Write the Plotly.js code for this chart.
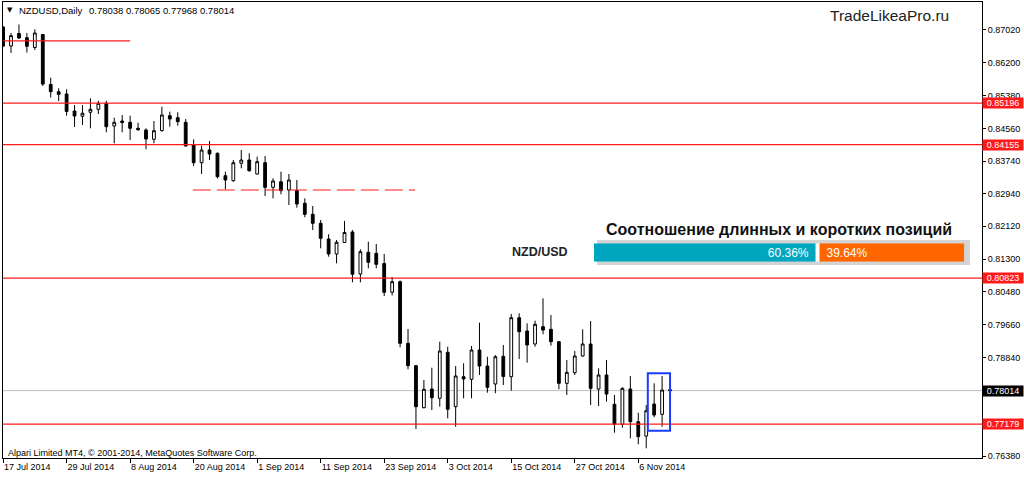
<!DOCTYPE html>
<html><head><meta charset="utf-8">
<script src="https://cdn.plot.ly/plotly-3.0.1.min.js"></script>
<style>html,body{margin:0;padding:0;background:#fff;}#chart{width:1024px;height:477px;}</style>
</head><body><div id="chart"></div>
<script>
// ---- data (NZDUSD daily, 17 Jul 2014 .. 12 Nov 2014) ----
const open = [0.87095,0.86620,0.86933,0.86828,0.86583,0.86908,0.85659,0.85479,0.85422,0.84997,
0.84865,0.84965,0.85040,0.85189,0.84622,0.84747,0.84715,0.84565,0.84523,0.84290,
0.84505,0.84880,0.84830,0.84715,0.84148,0.83706,0.84023,0.83941,0.83381,0.83256,
0.83691,0.83773,0.83424,0.83706,0.83091,0.83231,0.83024,0.83007,0.82692,0.82417,
0.82192,0.81800,0.81426,0.81713,0.81975,0.80926,0.81468,0.81443,0.81188,0.80469,
0.80734,0.79195,0.78636,0.77587,0.78054,0.77822,0.78971,0.77612,0.78361,0.78296,
0.79028,0.78628,0.78179,0.78871,0.78361,0.79835,0.79503,0.79178,0.79610,0.79545,
0.79235,0.78196,0.78461,0.78878,0.79178,0.78054,0.78404,0.77672,0.77172,0.78054,
0.77237,0.76880,0.77679,0.77422,0.78038];
const high = [0.87120,0.86945,0.87157,0.86945,0.87037,0.86920,0.85829,0.85564,0.85539,0.85147,
0.85147,0.85314,0.85254,0.85254,0.84830,0.84897,0.84880,0.84705,0.84565,0.84747,
0.85104,0.84980,0.84965,0.84797,0.84290,0.84130,0.84248,0.83961,0.83481,0.83773,
0.84023,0.83941,0.83856,0.83873,0.83316,0.83481,0.83424,0.83274,0.82817,0.82624,
0.82275,0.81918,0.81775,0.82250,0.82025,0.81543,0.81733,0.81675,0.81426,0.80851,
0.80764,0.79552,0.78653,0.78279,0.78586,0.79235,0.79110,0.78628,0.78696,0.79128,
0.79710,0.78861,0.78903,0.79153,0.79927,0.79945,0.79695,0.79760,0.80319,0.79902,
0.79253,0.78778,0.79003,0.79545,0.79752,0.78571,0.78778,0.77904,0.78096,0.78379,
0.77462,0.77654,0.78196,0.78379,0.78065];
const low = [0.86595,0.86446,0.86795,0.86458,0.86520,0.85621,0.85334,0.85247,0.84880,0.84597,
0.84647,0.84565,0.84922,0.84465,0.84190,0.84465,0.84273,0.84498,0.84040,0.84190,
0.84485,0.84605,0.84630,0.84110,0.83623,0.83424,0.83773,0.83316,0.83042,0.83231,
0.83566,0.83481,0.83411,0.82874,0.82817,0.82917,0.82649,0.82582,0.82342,0.82025,
0.81568,0.81358,0.81193,0.81700,0.80719,0.80719,0.81068,0.81068,0.80377,0.80389,
0.79095,0.78546,0.77055,0.77572,0.77529,0.77612,0.77322,0.77112,0.77822,0.77822,
0.78404,0.77962,0.77947,0.78154,0.78012,0.78803,0.78711,0.79110,0.79420,0.79135,
0.78047,0.77904,0.78404,0.78861,0.77654,0.77629,0.77737,0.76963,0.77087,0.76823,
0.76673,0.76573,0.77347,0.77112,0.77968];
const close = [0.86620,0.86878,0.86820,0.86613,0.86945,0.85671,0.85479,0.85414,0.84985,0.84872,
0.84940,0.85040,0.85189,0.84605,0.84715,0.84710,0.84565,0.84530,0.84298,0.84505,
0.84897,0.84797,0.84730,0.84123,0.83706,0.84023,0.83923,0.83356,0.83274,0.83706,
0.83773,0.83506,0.83731,0.83091,0.83249,0.83007,0.83274,0.82674,0.82417,0.82192,
0.81818,0.81426,0.81718,0.81963,0.80921,0.81483,0.81218,0.81168,0.80469,0.80734,
0.79195,0.78636,0.77612,0.78047,0.77837,0.79003,0.77547,0.78379,0.78304,0.79028,
0.78628,0.78096,0.78861,0.78366,0.79835,0.79485,0.79153,0.79670,0.79527,0.79235,
0.78196,0.78471,0.78878,0.79178,0.78071,0.78404,0.77929,0.77172,0.78071,0.77237,
0.76863,0.77512,0.77405,0.78029,0.78014];

const tickBars  = [0, 8, 16, 24, 32, 40, 48, 56, 64, 72, 80];
const tickDates = ["17 Jul 2014","29 Jul 2014","8 Aug 2014","20 Aug 2014","1 Sep 2014",
                   "11 Sep 2014","23 Sep 2014","3 Oct 2014","15 Oct 2014","27 Oct 2014","6 Nov 2014"];
const priceTicks = [0.87020,0.86200,0.85380,0.84560,0.83740,0.82940,0.82120,
                    0.81300,0.80480,0.79660,0.78840,0.76380];

const levels = [0.85196, 0.84155, 0.80823, 0.77179];   // full-width red levels
const topLevel = 0.86750;  const topLevelBars = [0, 16];
const dashLevel = 0.83024; const dashLevelBars = [23.9, 51.9];
const zoneBars = [81.2, 84.0]; const zonePrices = [0.77012, 0.78446];

const sentimentPair = "NZD/USD";
const sentimentTitle = "Соотношение длинных и коротких позиций";
const sentiment = [60.36, 39.64];  // long, short

const symbolName = "NZDUSD,Daily";
const watermark = "TradeLikeaPro.ru";
const copyright = "Alpari Limited MT4, © 2001-2014, MetaQuotes Software Corp.";

// ---- layout helpers (pixel -> paper) ----
const PL = 3, PR = 982, PT = 2, PB = 458;
const px = v => (v - PL) / (PR - PL);
const py = v => (PB - v) / (PB - PT);
const FONT = "Liberation Sans, Arial, sans-serif";
const RED = "#ff1a1a";

const n = close.length;
const xs = close.map((_, i) => i);
const last = n - 1;
const bid = close[last];

const traces = [{
  type: "candlestick", x: xs, open: open, high: high, low: low, close: close,
  increasing: {line: {color: "#000", width: 1}, fillcolor: "#fff"},
  decreasing: {line: {color: "#000", width: 1}, fillcolor: "#000"},
  whiskerwidth: 0, hoverinfo: "none", showlegend: false
}, {
  type: "bar", orientation: "h", x: [sentiment[0]], y: [0], base: [0], width: [1],
  xaxis: "x2", yaxis: "y2", marker: {color: "#00a6bf", line: {width: 0}},
  text: [sentiment[0].toFixed(2) + "%\u2002"], textposition: "inside", insidetextanchor: "end",
  constraintext: "none", textfont: {color: "#fff", size: 12, family: FONT},
  hoverinfo: "none", showlegend: false
}, {
  type: "bar", orientation: "h", x: [sentiment[1]], y: [0], base: [sentiment[0]], width: [1],
  xaxis: "x2", yaxis: "y2", marker: {color: "#ff6600", line: {width: 0}},
  text: ["\u2002" + sentiment[1].toFixed(2) + "%"], textposition: "inside", insidetextanchor: "start",
  constraintext: "none", textfont: {color: "#fff", size: 12, family: FONT},
  hoverinfo: "none", showlegend: false
}];

const shapes = [];
levels.forEach(v => shapes.push({type: "line", xref: "paper", yref: "y", x0: 0, x1: 1, y0: v, y1: v,
  line: {color: RED, width: 1.2}}));
shapes.push({type: "line", xref: "x", yref: "y", x0: topLevelBars[0] - 1, x1: topLevelBars[1], y0: topLevel, y1: topLevel,
  line: {color: RED, width: 1.2}});
shapes.push({type: "line", xref: "x", yref: "y", x0: dashLevelBars[0], x1: dashLevelBars[1], y0: dashLevel, y1: dashLevel,
  line: {color: RED, width: 1.2, dash: "18px,6px"}});
shapes.push({type: "line", xref: "paper", yref: "y", x0: 0, x1: 1, y0: bid, y1: bid,
  line: {color: "#c0c0c0", width: 1}, layer: "below"});
shapes.push({type: "rect", xref: "x", yref: "y", x0: zoneBars[0], x1: zoneBars[1], y0: zonePrices[0], y1: zonePrices[1],
  line: {color: "#1a3cff", width: 2}, fillcolor: "rgba(0,0,0,0)"});
// sentiment widget shadow + separator
shapes.push({type: "rect", xref: "paper", yref: "paper", x0: px(597), x1: px(970), y0: py(265), y1: py(240),
  fillcolor: "#d4d4d4", line: {width: 0}, layer: "below"});
shapes.push({type: "line", xref: "x2", yref: "y2 domain", x0: sentiment[0], x1: sentiment[0], y0: 0, y1: 1,
  line: {color: "#fff", width: 4}});

const annotations = [];
// price labels on axis
levels.forEach(v => annotations.push({xref: "paper", yref: "y", x: 1, y: v, xanchor: "left", yanchor: "middle",
  text: v.toFixed(5), showarrow: false, bgcolor: RED, font: {color: "#fff", size: 9, family: FONT},
  width: 40, height: 10, align: "center", borderpad: 0}));
annotations.push({xref: "paper", yref: "y", x: 1, y: bid, xanchor: "left", yanchor: "middle",
  text: bid.toFixed(5), showarrow: false, bgcolor: "#000", font: {color: "#fff", size: 9, family: FONT},
  width: 40, height: 10, align: "center", borderpad: 0});
// header
annotations.push({xref: "paper", yref: "paper", x: px(9.5), y: py(10.5), xanchor: "center", yanchor: "middle",
  text: "▼", showarrow: false, font: {color: "#000", size: 7, family: "DejaVu Sans"}});
annotations.push({xref: "paper", yref: "paper", x: px(17), y: py(10.5), xanchor: "left", yanchor: "middle",
  text: symbolName, showarrow: false, font: {color: "#000", size: 9.5, family: FONT}});
annotations.push({xref: "paper", yref: "paper", x: px(87), y: py(10.5), xanchor: "left", yanchor: "middle",
  text: [open[last], high[last], low[last], close[last]].map(v => v.toFixed(5)).join(" "),
  showarrow: false, font: {color: "#000", size: 9.5, family: FONT}});
annotations.push({xref: "paper", yref: "paper", x: px(828), y: py(15), xanchor: "left", yanchor: "middle",
  text: watermark, showarrow: false, font: {color: "#222", size: 15.5, family: FONT}});
annotations.push({xref: "paper", yref: "paper", x: px(779), y: py(229.5), xanchor: "center", yanchor: "middle",
  text: "<b>" + sentimentTitle + "</b>", showarrow: false, font: {color: "#111", size: 16, family: FONT}});
annotations.push({xref: "paper", yref: "paper", x: px(539.5), y: py(252), xanchor: "center", yanchor: "middle",
  text: "<b>" + sentimentPair + "</b>", showarrow: false, font: {color: "#222", size: 12.5, family: FONT}});
annotations.push({xref: "paper", yref: "paper", x: px(6), y: py(453), xanchor: "left", yanchor: "middle",
  text: copyright, showarrow: false, font: {color: "#000", size: 9, family: FONT}});

const layout = {
  width: 1024, height: 477,
  margin: {l: PL, r: 1024 - PR, t: PT, b: 477 - PB, pad: 0},
  paper_bgcolor: "#fff", plot_bgcolor: "rgba(0,0,0,0)",
  showlegend: false, boxgap: 0.5, barmode: "overlay", dragmode: false,
  xaxis: {type: "linear", range: [-0.01, 123.29], rangeslider: {visible: false},
    showgrid: false, zeroline: false, showline: true, mirror: true, linecolor: "#000", linewidth: 1,
    tickmode: "array", tickvals: tickBars, ticktext: tickDates, ticks: "outside", ticklen: 4,
    tickcolor: "#000", tickwidth: 1, ticklabelposition: "outside right",
    tickfont: {size: 9, color: "#000", family: FONT}, fixedrange: true},
  yaxis: {side: "right", range: [0.76331, 0.87719], showgrid: false, zeroline: false,
    showline: true, mirror: true, linecolor: "#000", linewidth: 1,
    tickmode: "array", tickvals: priceTicks, ticktext: priceTicks.map(v => v.toFixed(5)),
    ticks: "outside", ticklen: 3, tickcolor: "#000", tickwidth: 1,
    tickfont: {size: 9, color: "#000", family: FONT}, fixedrange: true},
  xaxis2: {domain: [px(594), px(964.3)], range: [0, 100], anchor: "y2", visible: false, fixedrange: true},
  yaxis2: {domain: [py(261.7), py(243.3)], range: [-0.5, 0.5], anchor: "x2", visible: false, fixedrange: true},
  shapes: shapes, annotations: annotations
};

Plotly.newPlot("chart", traces, layout, {displayModeBar: false, staticPlot: true});
</script></body></html>
